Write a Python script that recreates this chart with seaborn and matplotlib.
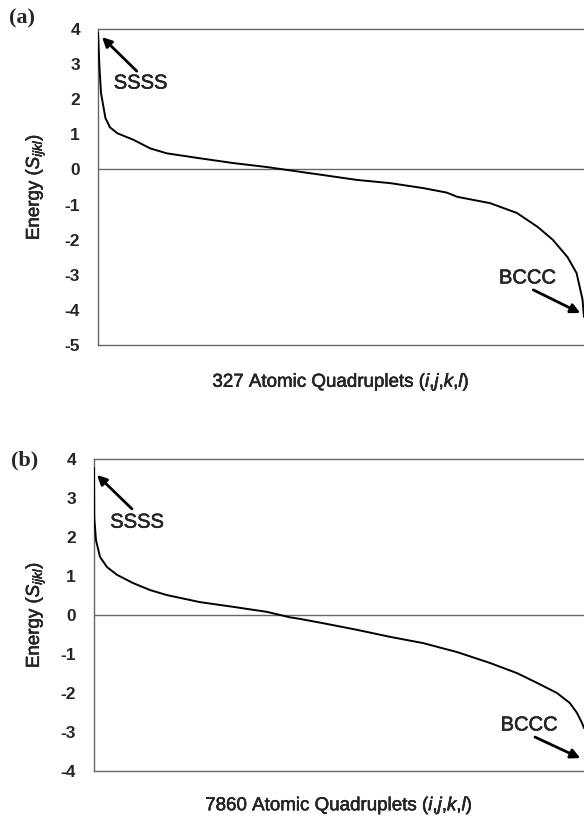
import numpy as np
import pandas as pd
import matplotlib
matplotlib.use("Agg")
import matplotlib.pyplot as plt
import matplotlib.patheffects as pe
import seaborn as sns

# ---- данные ----
# (a) 327 квадруплетов
idx_a = [1, 2, 3, 6, 9, 14, 25, 36, 47, 69, 92, 114, 137, 152, 175, 197,
         219, 235, 242, 264, 282, 296, 306, 316, 322, 326, 327]
energy_a = [3.89, 2.9, 2.18, 1.46, 1.2, 1.03, 0.84, 0.6, 0.46, 0.32, 0.18,
            0.07, -0.07, -0.16, -0.3, -0.39, -0.53, -0.66, -0.78, -0.96,
            -1.24, -1.64, -2.0, -2.5, -2.95, -3.7, -4.2]

# (b) 7860 квадруплетов
idx_b = [1, 5, 33, 97, 209, 370, 626, 899, 1172, 1701, 2230, 2776, 3145,
         3305, 3674, 4219, 4748, 5278, 5823, 6352, 6785, 7106, 7427, 7635,
         7747, 7828, 7860]
energy_b = [3.77, 2.5, 1.92, 1.49, 1.23, 1.03, 0.82, 0.64, 0.51, 0.33, 0.21,
            0.08, -0.06, -0.1, -0.21, -0.38, -0.56, -0.72, -0.95, -1.23,
            -1.49, -1.74, -2.0, -2.26, -2.51, -2.77, -2.9]

panels = [
    dict(letter="(a)", idx=idx_a, energy=energy_a, n=327, ymin=-5, ymax=4,
         rect=[98 / 584, 1 - 345 / 817, 486 / 584, 316 / 817],
         ssss_tip=(3.7, 3.77), ssss_tail=(27, 2.8), ssss_txt=(29.5, 2.46),
         bccc_tip=(324.5, -4.09), bccc_tail=(293, -3.43), bccc_txt=(289, -3.09),
         letter_pos=(22, 18), ylab_x=-0.105, xlab_y=-0.085),
    dict(letter="(b)", idx=idx_b, energy=energy_b, n=7860, ymin=-4, ymax=4,
         rect=[94 / 584, 1 - 771 / 817, 490 / 584, 312 / 817],
         ssss_tip=(49, 3.59), ssss_tail=(610, 2.72), ssss_txt=(690, 2.38),
         bccc_tip=(7800, -3.67), bccc_tail=(7074, -3.13), bccc_txt=(6978, -2.82),
         letter_pos=(25, 460), ylab_x=-0.096, xlab_y=-0.078),
]

sns.set_theme(style="white")
plt.rcParams["font.family"] = ["Liberation Sans", "DejaVu Sans"]
plt.rcParams["mathtext.fontset"] = "custom"
plt.rcParams["mathtext.it"] = "Liberation Sans:italic"
plt.rcParams["mathtext.rm"] = "Liberation Sans"
plt.rcParams["axes.unicode_minus"] = False

# чуть «жирнее» обычный шрифт, как на скане
heavy = [pe.withStroke(linewidth=0.35, foreground="black")]

fig = plt.figure(figsize=(5.84, 8.17), dpi=100)

for p in panels:
    ax = fig.add_axes(p["rect"])
    df = pd.DataFrame({"idx": p["idx"], "energy": p["energy"]})
    ax.axhline(0, color="#666666", lw=1.0, zorder=1)
    sns.lineplot(data=df, x="idx", y="energy", color="black", lw=1.4, ax=ax, zorder=3)

    ax.set_xlim(1, p["n"])
    ax.set_ylim(p["ymin"], p["ymax"])
    ax.set_xticks([])
    ax.set_yticks(range(p["ymin"], p["ymax"] + 1))
    ax.tick_params(axis="y", length=0, pad=13, labelsize=12.5)
    for t in ax.get_yticklabels():
        t.set_fontweight("bold")

    for side in ["left", "top", "bottom"]:
        ax.spines[side].set_color("#666666")
        ax.spines[side].set_linewidth(1.0)
    ax.spines["right"].set_visible(False)

    ylab = ax.set_ylabel(r"Energy ($S_{ijkl}$)", fontsize=13.5)
    ax.yaxis.set_label_coords(p["ylab_x"], 0.5)
    xlab = ax.set_xlabel(f"{p['n']} Atomic Quadruplets ($i$,$j$,$k$,$l$)", fontsize=13.5)
    ax.xaxis.set_label_coords(0.5, p["xlab_y"])
    ylab.set_path_effects(heavy)
    xlab.set_path_effects(heavy)

    arrow = dict(arrowstyle="-|>", color="black", lw=2, mutation_scale=14,
                 shrinkA=0, shrinkB=0)
    ax.annotate("", xy=p["ssss_tip"], xytext=p["ssss_tail"], arrowprops=arrow)
    t1 = ax.text(*p["ssss_txt"], "SSSS", fontsize=14.5, ha="center", va="center")
    ax.annotate("", xy=p["bccc_tip"], xytext=p["bccc_tail"], arrowprops=arrow)
    t2 = ax.text(*p["bccc_txt"], "BCCC", fontsize=14.5, ha="center", va="center")
    t1.set_path_effects(heavy)
    t2.set_path_effects(heavy)

    lx, ly = p["letter_pos"]
    fig.text(lx / 584, 1 - ly / 817, p["letter"], fontsize=16, fontweight="bold",
             family="Liberation Serif", ha="center", va="center")

fig.savefig("out.png", dpi=100)
